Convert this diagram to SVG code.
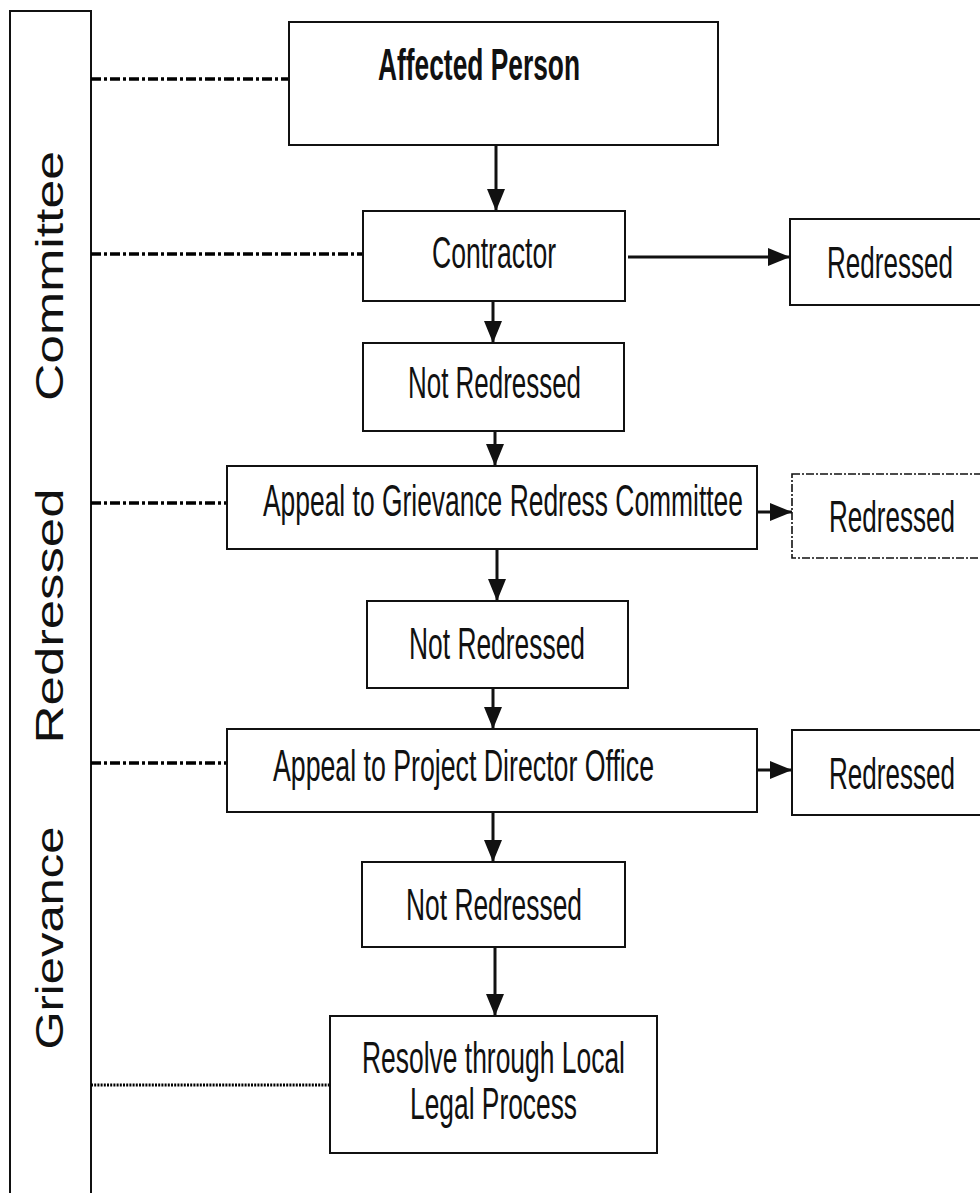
<svg xmlns="http://www.w3.org/2000/svg" width="980" height="1193" viewBox="0 0 980 1193">
<style>
.box{fill:#fff;stroke:#111;stroke-width:2}
.dbox{fill:#fff;stroke:#111;stroke-width:1.6;stroke-dasharray:8,2,2,2}
.t{font-family:"Liberation Sans",Arial,sans-serif;font-size:44px;fill:#111;text-anchor:middle}
.b{font-weight:bold;font-size:45px}
.side{font-family:"Liberation Sans",Arial,sans-serif;font-size:39px;fill:#111;text-anchor:middle}
.ar{stroke:#111;stroke-width:3;fill:none}
.dd{stroke:#000;stroke-width:3.5;fill:none;stroke-dasharray:10,3,3,3}
.dot{stroke:#000;stroke-width:3;fill:none;stroke-dasharray:2,1.2}
</style>
<defs>
<marker id="ah" markerUnits="userSpaceOnUse" markerWidth="24" markerHeight="20" refX="22" refY="9" orient="auto">
<path d="M0,0 L22,9 L0,18 Z" fill="#111"/>
</marker>
</defs>
<g id="sidebar">
<rect x="10" y="11" width="81" height="1200" class="box"/>
<text class="side" transform="translate(63,938) rotate(-90)" textLength="223" lengthAdjust="spacingAndGlyphs">Grievance</text>
<text class="side" transform="translate(63,616) rotate(-90)" textLength="255" lengthAdjust="spacingAndGlyphs">Redressed</text>
<text class="side" transform="translate(63,276) rotate(-90)" textLength="250" lengthAdjust="spacingAndGlyphs">Committee</text>
</g>
<g id="connectors">
<line class="dd" x1="91" y1="79" x2="289" y2="79"/>
<line class="dd" x1="91" y1="254" x2="363" y2="254"/>
<line class="dd" x1="91" y1="503" x2="227" y2="503"/>
<line class="dd" x1="91" y1="763" x2="227" y2="763"/>
<line class="dot" x1="91" y1="1085" x2="330" y2="1085"/>
<line class="ar" x1="496" y1="145" x2="496" y2="211" marker-end="url(#ah)"/>
<line class="ar" x1="628" y1="257" x2="790" y2="257" marker-end="url(#ah)"/>
<line class="ar" x1="493" y1="301" x2="493" y2="343" marker-end="url(#ah)"/>
<line class="ar" x1="495" y1="408" x2="495" y2="466" marker-end="url(#ah)"/>
<line class="ar" x1="757" y1="512" x2="792" y2="512" marker-end="url(#ah)"/>
<line class="ar" x1="497" y1="538" x2="497" y2="601" marker-end="url(#ah)"/>
<line class="ar" x1="493" y1="688" x2="493" y2="729" marker-end="url(#ah)"/>
<line class="ar" x1="757" y1="770" x2="792" y2="770" marker-end="url(#ah)"/>
<line class="ar" x1="493" y1="812" x2="493" y2="862" marker-end="url(#ah)"/>
<line class="ar" x1="495" y1="947" x2="495" y2="1016" marker-end="url(#ah)"/>
</g>
<g id="affected">
<rect x="289" y="22" width="429" height="123" class="box"/>
<text class="t b" x="479" y="80" textLength="202" lengthAdjust="spacingAndGlyphs">Affected Person</text>
</g>
<g id="contractor">
<rect x="363" y="211" width="262" height="90" class="box"/>
<text class="t" x="494" y="268" textLength="124" lengthAdjust="spacingAndGlyphs">Contractor</text>
</g>
<g id="redressed1">
<rect x="790" y="219" width="193" height="86" class="box"/>
<text class="t" x="890" y="278" textLength="126" lengthAdjust="spacingAndGlyphs">Redressed</text>
</g>
<g id="notredressed1">
<rect x="363" y="343" width="261" height="88" class="box"/>
<text class="t" x="494.5" y="398" textLength="173" lengthAdjust="spacingAndGlyphs">Not Redressed</text>
</g>
<g id="grc">
<rect x="227" y="466" width="530" height="83" class="box"/>
<text class="t" x="503" y="516" textLength="480" lengthAdjust="spacingAndGlyphs">Appeal to Grievance Redress Committee</text>
</g>
<g id="redressed2">
<rect x="792" y="474" width="191" height="84" class="dbox"/>
<text class="t" x="892" y="532" textLength="126" lengthAdjust="spacingAndGlyphs">Redressed</text>
</g>
<g id="notredressed2">
<rect x="367" y="601" width="261" height="87" class="box"/>
<text class="t" x="497" y="659" textLength="176" lengthAdjust="spacingAndGlyphs">Not Redressed</text>
</g>
<g id="pdo">
<rect x="227" y="729" width="530" height="83" class="box"/>
<text class="t" x="463.5" y="781" textLength="381" lengthAdjust="spacingAndGlyphs">Appeal to Project Director Office</text>
</g>
<g id="redressed3">
<rect x="792" y="730" width="191" height="85" class="box"/>
<text class="t" x="892" y="789" textLength="126" lengthAdjust="spacingAndGlyphs">Redressed</text>
</g>
<g id="notredressed3">
<rect x="362" y="862" width="263" height="85" class="box"/>
<text class="t" x="494" y="920" textLength="176" lengthAdjust="spacingAndGlyphs">Not Redressed</text>
</g>
<g id="resolve">
<rect x="330" y="1016" width="327" height="137" class="box"/>
<text class="t" x="493.5" y="1073" textLength="263" lengthAdjust="spacingAndGlyphs">Resolve through Local</text>
<text class="t" x="493.5" y="1119" textLength="167" lengthAdjust="spacingAndGlyphs">Legal Process</text>
</g>
</svg>
